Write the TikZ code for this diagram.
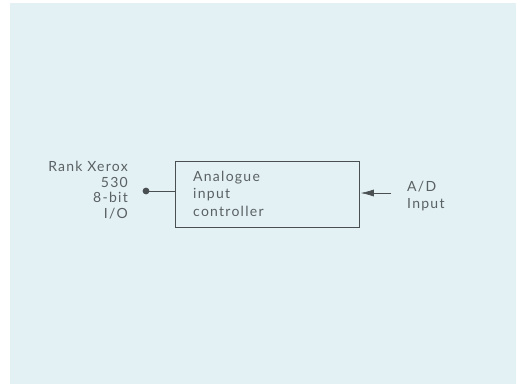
\documentclass[tikz,border=0pt]{standalone}
\usepackage{fontspec}
\setmainfont{Lato}[LetterSpace=9]
\usetikzlibrary{arrows.meta}
\definecolor{bgblue}{HTML}{E3F1F4}
\definecolor{ink}{HTML}{4A4F52}
\definecolor{txt}{HTML}{5A6164}
\tikzset{
  lbl/.style={text=txt, inner sep=0pt},
  wire/.style={draw=ink, line width=0.6pt}
}
\begin{document}
\begin{tikzpicture}[x=1pt,y=-1pt]
\useasboundingbox (0,0) rectangle (521,386);
\fill[white] (0,0) rectangle (521,386);
\fill[bgblue] (10,3) rectangle (516,384);
% box
\node[draw=ink, line width=0.6pt, minimum width=184pt, minimum height=66pt, inner sep=0pt] (box) at (267,194) {};
\node[lbl, font=\fontsize{14}{17.5}\selectfont, align=left, anchor=north west] (btxt) at (193,170.5) {Analogue\\input\\controller};
% left label
\node[lbl, font=\fontsize{14}{15.7}\selectfont, align=right, anchor=north east] (left) at (128,161) {Rank Xerox\\530\\8-bit\\I/O};
\coordinate (dot) at (146,191);
\fill[ink] (dot) circle (3.4pt);
\draw[wire] (dot) -- (box.west |- dot);
% right
\node[lbl, font=\fontsize{14}{16.7}\selectfont, align=left, anchor=north west] (ad) at (407,181) {A/D\\Input};
\coordinate (arrstart) at (391,193);
\draw[wire, shorten >=1.5pt, -{Latex[length=13pt,width=7pt]}] (arrstart) -- (box.east |- arrstart);
\end{tikzpicture}
\end{document}
